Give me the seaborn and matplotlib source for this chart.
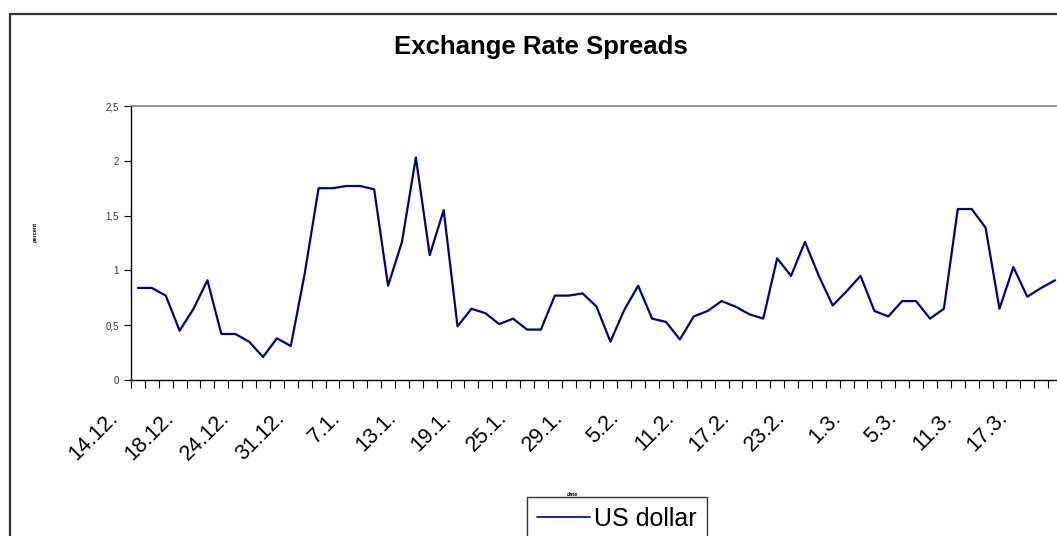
import numpy as np
import pandas as pd
import matplotlib
matplotlib.use('Agg')
import matplotlib.pyplot as plt
import matplotlib.transforms as mtrans
import seaborn as sns
from matplotlib.ticker import FixedLocator, FuncFormatter

# Spread values (one per trading day)
spread = [0.84, 0.84, 0.77, 0.45, 0.65, 0.91, 0.42, 0.42, 0.35, 0.21,
          0.38, 0.31, 0.97, 1.75, 1.75, 1.77, 1.77, 1.74, 0.86, 1.26,
          2.03, 1.14, 1.55, 0.49, 0.65, 0.61, 0.51, 0.56, 0.46, 0.46,
          0.77, 0.77, 0.79, 0.67, 0.35, 0.64, 0.86, 0.56, 0.53, 0.37,
          0.58, 0.63, 0.72, 0.67, 0.60, 0.56, 1.11, 0.95, 1.26, 0.95,
          0.68, 0.81, 0.95, 0.63, 0.58, 0.72, 0.72, 0.56, 0.65, 1.56,
          1.56, 1.39, 0.65, 1.03, 0.76, 0.84, 0.91]
date_labels = ['14.12.', '18.12.', '24.12.', '31.12.', '7.1.', '13.1.', '19.1.',
               '25.1.', '29.1.', '5.2.', '11.2.', '17.2.', '23.2.', '1.3.',
               '5.3.', '11.3.', '17.3.']
label_step = 4
y_ticks = [0, 0.5, 1, 1.5, 2, 2.5]

df = pd.DataFrame({'day': np.arange(len(spread)), 'spread': spread})

sns.set_style('white')
plt.rcParams['font.family'] = ['Liberation Sans', 'DejaVu Sans']
plt.rcParams['text.color'] = 'black'
plt.rcParams['xtick.color'] = 'black'

W, H = 1057, 536
fig = plt.figure(figsize=(W / 100, H / 100), dpi=100)
ax = fig.add_axes([131 / W, 1 - 380 / H, 931 / W, 274 / H])

sns.lineplot(data=df, x='day', y='spread', color='#000080', linewidth=1.6,
             ax=ax, label='US dollar')

ax.set_xlim(-0.5, len(spread) - 0.5)
ax.set_ylim(0, 2.5)

# y axis
ax.yaxis.set_major_locator(FixedLocator(y_ticks))
ax.yaxis.set_major_formatter(FuncFormatter(lambda v, p: f'{v:g}'.replace('.', ',')))
ax.tick_params(axis='y', which='major', direction='out', length=5, width=0.8,
               color='black', labelsize=7, labelcolor='#333333', pad=4, left=True)

# x axis: boundary ticks between days, labels every 4th day
ax.xaxis.set_major_locator(FixedLocator(np.arange(0, len(spread), label_step)))
ax.set_xticklabels(date_labels)
ax.xaxis.set_minor_locator(FixedLocator(np.arange(-0.5, len(spread), 1)))
ax.tick_params(axis='x', which='major', length=0, labelsize=15.5, pad=25,
               labelcolor='black')
ax.tick_params(axis='x', which='minor', direction='out', length=6, width=0.8,
               color='black', bottom=True)
shift = mtrans.ScaledTranslation(-23 / 100, 0, fig.dpi_scale_trans)
for lbl in ax.get_xticklabels():
    lbl.set_rotation(45)
    lbl.set_ha('right')
    lbl.set_va('center')
    lbl.set_rotation_mode('anchor')
    lbl.set_transform(lbl.get_transform() + shift)

for s in ['left', 'bottom']:
    ax.spines[s].set_color('black')
    ax.spines[s].set_linewidth(1.0)
ax.spines['top'].set_color('#808080')
ax.spines['top'].set_linewidth(1.2)
ax.spines['right'].set_visible(False)

ax.set_xlabel('')
ax.set_ylabel('')

fig.text(541 / W, 1 - 47 / H, 'Exchange Rate Spreads', ha='center', va='center',
         fontsize=18.5, fontweight='bold', color='black')
fig.text(35 / W, 1 - 232 / H, 'percent', rotation=90, ha='center', va='center',
         fontsize=4, fontweight='bold')
fig.text(572 / W, 1 - 494 / H, 'date', ha='center', va='center',
         fontsize=4, fontweight='bold')

leg = ax.legend(loc='upper left', bbox_to_anchor=(527 / W, 1 - 497 / H),
                bbox_transform=fig.transFigure, fontsize=18, frameon=True,
                fancybox=False, handlelength=2.1, handletextpad=0.2,
                borderpad=0.4, borderaxespad=0)
leg.get_frame().set_edgecolor('black')
leg.get_frame().set_linewidth(1.0)
leg.get_lines()[0].set_linewidth(1.2)

# outer chart frame
fig.add_artist(plt.Line2D([10 / W, 10 / W], [0, 1 - 14 / H], color='#333333',
                          linewidth=1.6, transform=fig.transFigure))
fig.add_artist(plt.Line2D([10 / W, 1], [1 - 14 / H, 1 - 14 / H], color='#333333',
                          linewidth=1.6, transform=fig.transFigure))

fig.savefig('out.png', dpi=100)
